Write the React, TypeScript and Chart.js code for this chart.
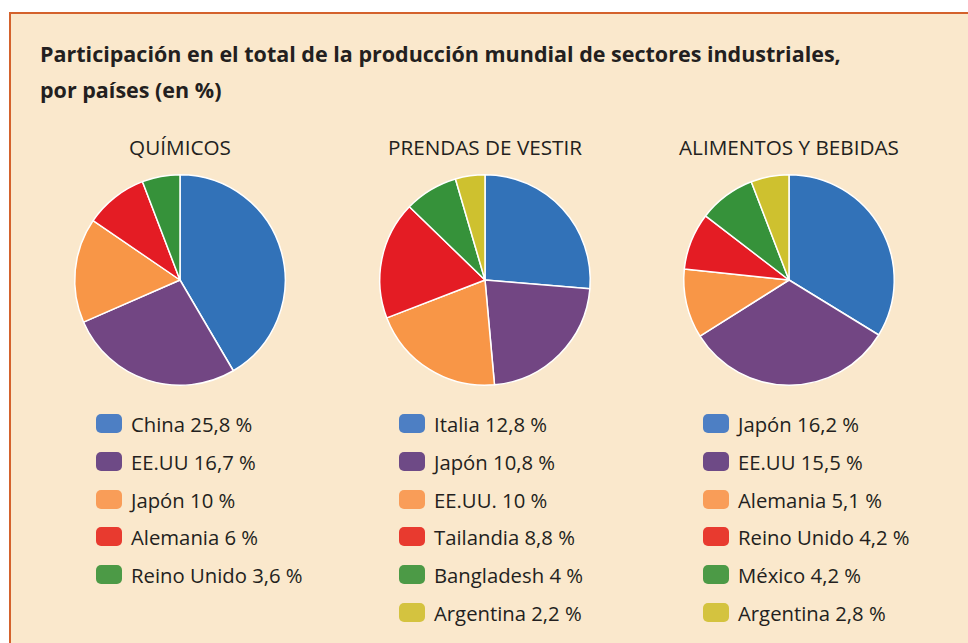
import React, { useEffect, useRef } from "react";
import { Chart, registerables } from "chart.js";

Chart.register(...registerables);

const titleLines = [
  "Participación en el total de la producción mundial de sectores industriales,",
  "por países (en %)",
];

const quimicosLabels = ["China", "EE.UU", "Japón", "Alemania", "Reino Unido"];
const quimicosValues = [25.8, 16.7, 10, 6, 3.6];

const prendasLabels = ["Italia", "Japón", "EE.UU.", "Tailandia", "Bangladesh", "Argentina"];
const prendasValues = [12.8, 10.8, 10, 8.8, 4, 2.2];

const alimentosLabels = ["Japón", "EE.UU", "Alemania", "Reino Unido", "México", "Argentina"];
const alimentosValues = [16.2, 15.5, 5.1, 4.2, 4.2, 2.8];

const sliceColors = ["#3272b8", "#724683", "#f89647", "#e41c24", "#36923a", "#cec12f"];
const swatchColors = ["#4d7fc4", "#6e4a86", "#f99d58", "#e83a2f", "#4c9a46", "#d4c33f"];

const FONT = "'Open Sans', 'Noto Sans', sans-serif";
const TEXT = "#231f20";

const fmt = (v: number) => String(v).replace(".", ",") + " %";

type PieProps = {
  title: string;
  labels: string[];
  values: number[];
  cx: number;
  legendX: number;
};

function Pie({ title, labels, values, cx, legendX }: PieProps) {
  const ref = useRef<HTMLCanvasElement | null>(null);
  const size = 222;
  const cy = 280;
  useEffect(() => {
    if (!ref.current) return;
    const chart = new Chart(ref.current, {
      type: "pie",
      data: {
        labels,
        datasets: [
          {
            data: values,
            backgroundColor: sliceColors.slice(0, values.length),
            borderColor: "#ffffff",
            borderWidth: 1.5,
            hoverOffset: 0,
            offset: 0,
          },
        ],
      },
      options: {
        animation: false,
        responsive: false,
        maintainAspectRatio: false,
        layout: { padding: 5 },
        plugins: {
          legend: { display: false },
          tooltip: { enabled: false },
          title: { display: false },
        },
      },
    });
    return () => chart.destroy();
  }, []);
  return (
    <>
      <div
        style={{
          position: "absolute",
          left: cx - 160,
          width: 320,
          top: 137,
          textAlign: "center",
          fontFamily: FONT,
          fontSize: 20.7,
          lineHeight: "20px",
          color: TEXT,
          whiteSpace: "nowrap",
        }}
      >
        {title}
      </div>
      <canvas
        ref={ref}
        width={size}
        height={size}
        style={{
          position: "absolute",
          left: cx - size / 2,
          top: cy - size / 2,
          width: size,
          height: size,
        }}
      />
      {labels.map((l, i) => (
        <div
          key={i}
          style={{
            position: "absolute",
            left: legendX,
            top: 414 + i * 37.8,
            height: 20,
            display: "flex",
            alignItems: "flex-start",
            whiteSpace: "nowrap",
          }}
        >
          <div
            style={{
              width: 26,
              height: 19,
              borderRadius: 5,
              background: swatchColors[i],
              marginRight: 9,
            }}
          />
          <div
            style={{
              fontFamily: FONT,
              fontSize: 20.3,
              lineHeight: "20px",
              color: TEXT,
            }}
          >
            {l + " " + fmt(values[i])}
          </div>
        </div>
      ))}
    </>
  );
}

export default function App() {
  return (
    <div
      style={{
        position: "absolute",
        left: 0,
        top: 0,
        width: 968,
        height: 643,
        overflow: "hidden",
        background: "#ffffff",
      }}
    >
      <div
        style={{
          position: "absolute",
          left: 9,
          top: 12,
          width: 1000,
          height: 700,
          background: "#fae8cc",
          borderTop: "2.5px solid #d4622c",
          borderLeft: "2.5px solid #d4622c",
        }}
      />
      <div
        style={{
          position: "absolute",
          left: 40,
          top: 36,
          fontFamily: FONT,
          fontWeight: 700,
          fontSize: 21.5,
          lineHeight: "36px",
          color: TEXT,
          whiteSpace: "nowrap",
        }}
      >
        {titleLines.map((t, i) => (
          <div key={i}>{t}</div>
        ))}
      </div>
      <Pie title="QUÍMICOS" labels={quimicosLabels} values={quimicosValues} cx={180} legendX={96} />
      <Pie title="PRENDAS DE VESTIR" labels={prendasLabels} values={prendasValues} cx={485} legendX={399} />
      <Pie title="ALIMENTOS Y BEBIDAS" labels={alimentosLabels} values={alimentosValues} cx={789} legendX={703} />
    </div>
  );
}
